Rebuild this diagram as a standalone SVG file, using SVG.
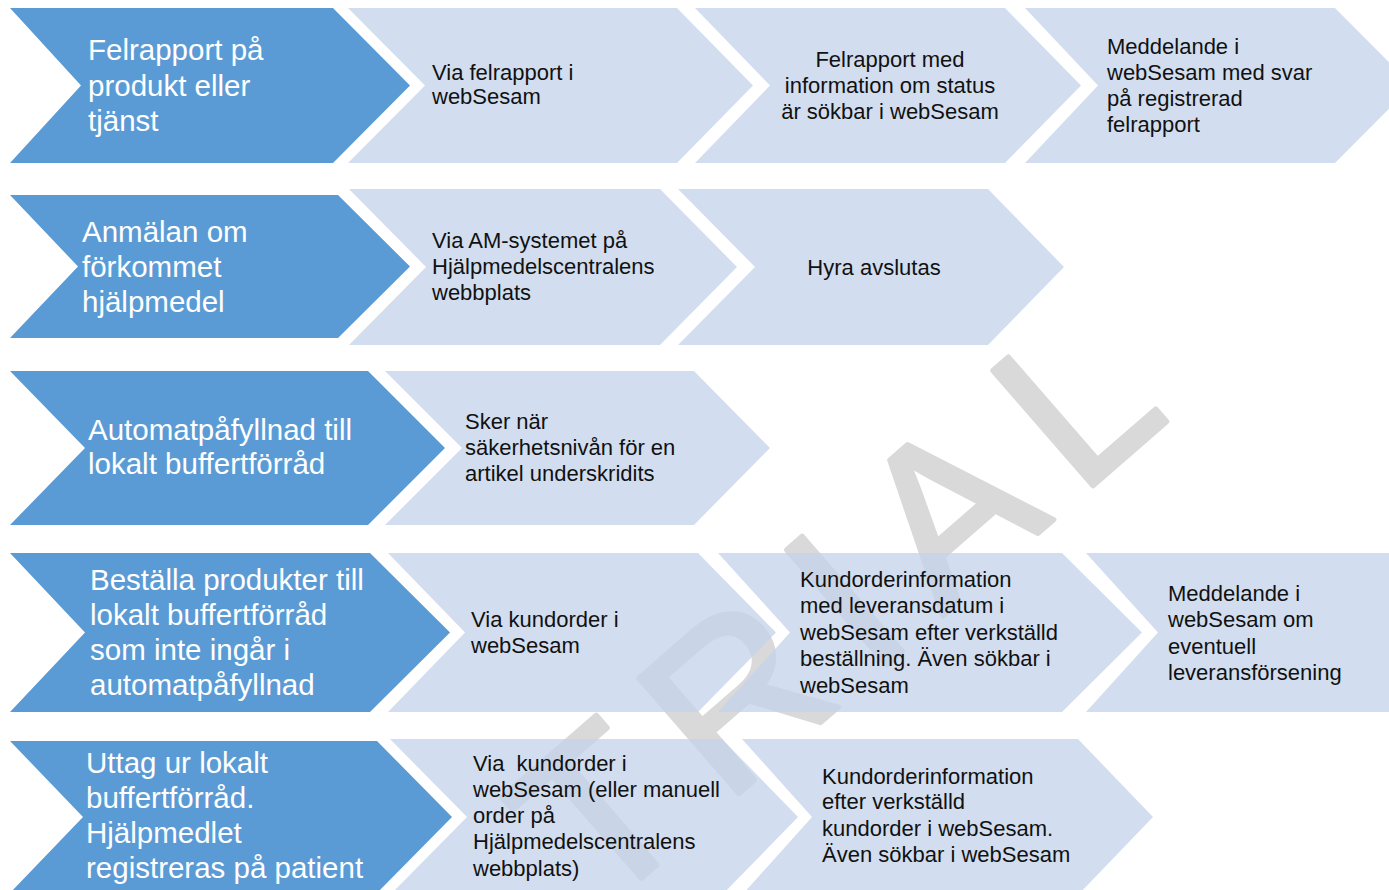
<svg xmlns="http://www.w3.org/2000/svg" width="1389" height="890" viewBox="0 0 1389 890">
  <style>
    .dark { fill: #5b9bd5; }
    .light { fill: #c3d3ea; fill-opacity: 0.75; }
    .hd { font-family: "Liberation Sans", Arial, sans-serif; font-size: 29.5px; fill: #ffffff; }
    .tx { font-family: "Liberation Sans", Arial, sans-serif; font-size: 22px; fill: #111111; }
    .mid { text-anchor: middle; }
    .wm { font-family: "Liberation Sans", Arial, sans-serif; font-size: 222px; letter-spacing: 33px; fill: #d9d9d9; stroke: #d9d9d9; stroke-width: 5; stroke-linejoin: round; }
  </style>
  <rect x="0" y="0" width="1389" height="890" fill="#ffffff"/>

  <!-- diagonal watermark, shows faintly through the pale steps -->
  <text class="wm" transform="translate(598,916) rotate(-41)">TRIAL</text>

  <!-- Row 1: fault report -->
  <g id="r1-start">
    <polygon class="dark" points="10,8 333,8 410,85.5 333,163 10,163 81,85.5"/>
    <text class="hd" x="88" y="60">Felrapport på</text>
    <text class="hd" x="88" y="95.5">produkt eller</text>
    <text class="hd" x="88" y="130.5">tjänst</text>
  </g>
  <g id="r1-s2">
    <polygon class="light" points="348,8 677,8 753,85.5 677,163 348,163 425,85.5"/>
    <text class="tx" x="432" y="80">Via felrapport i</text>
    <text class="tx" x="432" y="104">webSesam</text>
  </g>
  <g id="r1-s3">
    <polygon class="light" points="695,8 1005,8 1081,85.5 1005,163 695,163 770,85.5"/>
    <text class="tx mid" x="890" y="67">Felrapport med</text>
    <text class="tx mid" x="890" y="93">information om status</text>
    <text class="tx mid" x="890" y="119">är sökbar i webSesam</text>
  </g>
  <g id="r1-s4">
    <polygon class="light" points="1025,8 1335,8 1412,85.5 1335,163 1025,163 1098,85.5"/>
    <text class="tx" x="1107" y="54">Meddelande i</text>
    <text class="tx" x="1107" y="80">webSesam med svar</text>
    <text class="tx" x="1107" y="106">på registrerad</text>
    <text class="tx" x="1107" y="132">felrapport</text>
  </g>

  <!-- Row 2: lost aid -->
  <g id="r2-start">
    <polygon class="dark" points="10,195 338,195 410,266.5 338,338 10,338 78,266.5"/>
    <text class="hd" x="82" y="242">Anmälan om</text>
    <text class="hd" x="82" y="277">förkommet</text>
    <text class="hd" x="82" y="312">hjälpmedel</text>
  </g>
  <g id="r2-s2">
    <polygon class="light" points="349,189 660,189 737,267 660,345 349,345 426,267"/>
    <text class="tx" x="432" y="248">Via AM-systemet på</text>
    <text class="tx" x="432" y="274">Hjälpmedelscentralens</text>
    <text class="tx" x="432" y="300">webbplats</text>
  </g>
  <g id="r2-s3">
    <polygon class="light" points="678,189 988,189 1064,267 988,345 678,345 755,267"/>
    <text class="tx mid" x="874" y="275">Hyra avslutas</text>
  </g>

  <!-- Row 3: automatic refill -->
  <g id="r3-start">
    <polygon class="dark" points="10,371 368,371 445,448 368,525 10,525 85,448"/>
    <text class="hd" x="88" y="440">Automatpåfyllnad till</text>
    <text class="hd" x="88" y="474">lokalt buffertförråd</text>
  </g>
  <g id="r3-s2">
    <polygon class="light" points="385,371 694,371 770,448 694,525 385,525 462,448"/>
    <text class="tx" x="465" y="429">Sker när</text>
    <text class="tx" x="465" y="455">säkerhetsnivån för en</text>
    <text class="tx" x="465" y="481">artikel underskridits</text>
  </g>

  <!-- Row 4: ordering for the local buffer -->
  <g id="r4-start">
    <polygon class="dark" points="10,553 370,553 450,632.5 370,712 10,712 85,632.5"/>
    <text class="hd" x="90" y="590">Beställa produkter till</text>
    <text class="hd" x="90" y="625">lokalt buffertförråd</text>
    <text class="hd" x="90" y="660">som inte ingår i</text>
    <text class="hd" x="90" y="695">automatpåfyllnad</text>
  </g>
  <g id="r4-s2">
    <polygon class="light" points="388,553 698,553 776,632.5 698,712 388,712 465,632.5"/>
    <text class="tx" x="471" y="627">Via kundorder i</text>
    <text class="tx" x="471" y="653">webSesam</text>
  </g>
  <g id="r4-s3">
    <polygon class="light" points="718,553 1062,553 1142,632.5 1062,712 718,712 790,632.5"/>
    <text class="tx" x="800" y="587">Kundorderinformation</text>
    <text class="tx" x="800" y="613">med leveransdatum i</text>
    <text class="tx" x="800" y="640">webSesam efter verkställd</text>
    <text class="tx" x="800" y="666">beställning. Även sökbar i</text>
    <text class="tx" x="800" y="693">webSesam</text>
  </g>
  <g id="r4-s4">
    <polygon class="light" points="1086,553 1400,553 1400,712 1086,712 1158,632.5"/>
    <text class="tx" x="1168" y="601">Meddelande i</text>
    <text class="tx" x="1168" y="627">webSesam om</text>
    <text class="tx" x="1168" y="654">eventuell</text>
    <text class="tx" x="1168" y="680">leveransförsening</text>
  </g>

  <!-- Row 5: withdrawal from the local buffer -->
  <g id="r5-start">
    <polygon class="dark" points="10,741 377,741 452,817 377,893 10,893 83,817"/>
    <text class="hd" x="86" y="773">Uttag ur lokalt</text>
    <text class="hd" x="86" y="808">buffertförråd.</text>
    <text class="hd" x="86" y="843">Hjälpmedlet</text>
    <text class="hd" x="86" y="878">registreras på patient</text>
  </g>
  <g id="r5-s2">
    <polygon class="light" points="390,739 722,739 798,817 722,895 390,895 467,817"/>
    <text class="tx" x="473" y="771" xml:space="preserve">Via  kundorder i</text>
    <text class="tx" x="473" y="797">webSesam (eller manuell</text>
    <text class="tx" x="473" y="823">order på</text>
    <text class="tx" x="473" y="849">Hjälpmedelscentralens</text>
    <text class="tx" x="473" y="876">webbplats)</text>
  </g>
  <g id="r5-s3">
    <polygon class="light" points="742,739 1078,739 1153,817 1078,895 742,895 812,817"/>
    <text class="tx" x="822" y="784">Kundorderinformation</text>
    <text class="tx" x="822" y="809">efter verkställd</text>
    <text class="tx" x="822" y="836">kundorder i webSesam.</text>
    <text class="tx" x="822" y="862">Även sökbar i webSesam</text>
  </g>

  <!-- no connectors between the steps -->
  <g id="connectors"/>
</svg>
